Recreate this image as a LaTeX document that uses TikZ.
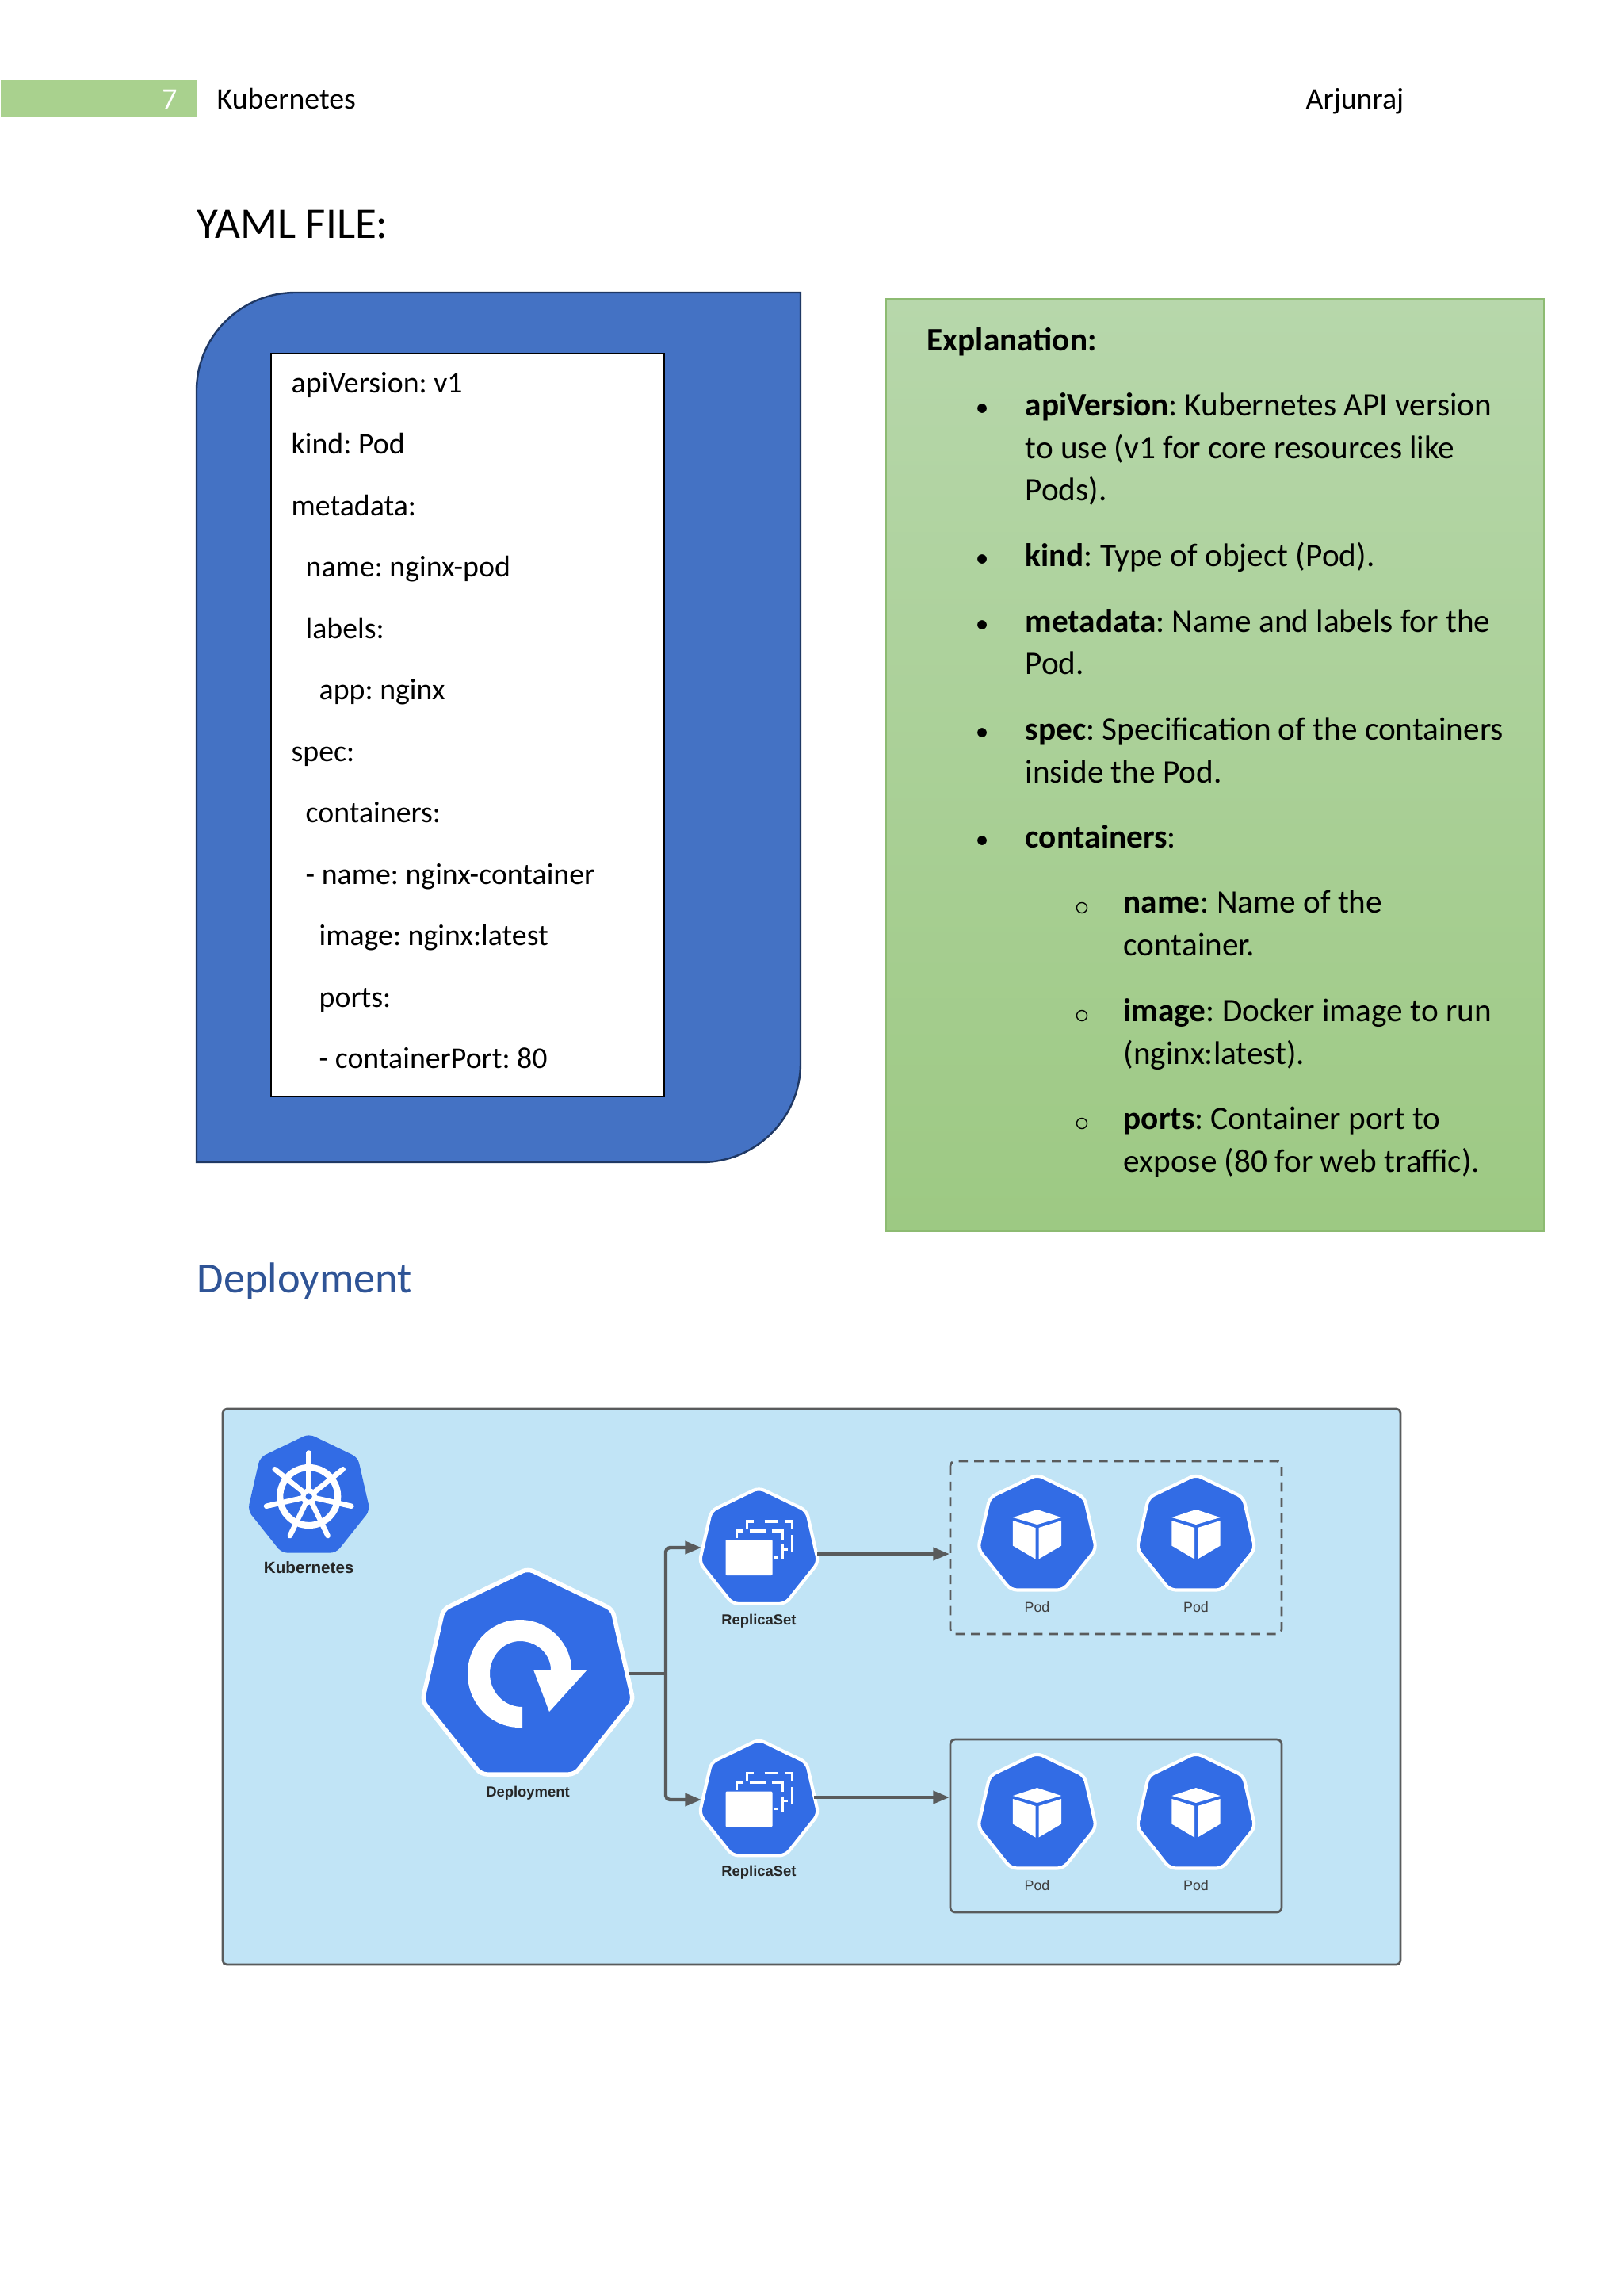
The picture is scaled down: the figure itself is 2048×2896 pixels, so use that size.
\documentclass[tikz,border=0pt]{standalone}
\usepackage{fontspec}
\setmainfont{Carlito}
\newfontfamily\labelfont{Liberation Sans}
\usetikzlibrary{shapes.geometric,arrows.meta,calc}
\definecolor{kblue}{HTML}{326CE5}
\definecolor{line}{HTML}{595B5C}
\definecolor{panel}{HTML}{C1E4F6}
\definecolor{yamlblue}{HTML}{4472C4}
\definecolor{yamledge}{HTML}{1F3864}
\definecolor{hbar}{HTML}{A9D18E}
\definecolor{gtop}{HTML}{B7D7AB}
\definecolor{gbot}{HTML}{9DC983}
\definecolor{gedge}{HTML}{8DBB72}
\definecolor{headblue}{HTML}{2F5496}
\tikzset{
 x=0.29066pt,y=-0.29066pt,
 txt/.style={anchor=base west,inner sep=0pt,font=\fontsize{12}{14}\selectfont\frenchspacing,text=black},
 ytxt/.style={anchor=base west,inner sep=0pt,font=\fontsize{11}{14}\selectfont\frenchspacing,text=black},
 hept/.style={regular polygon,regular polygon sides=7,inner sep=0pt,fill=kblue,draw=white,line width=1.2pt,rounded corners=2.2pt},
 klabel/.style={inner sep=0pt,font=\labelfont\bfseries\fontsize{5.35}{6}\selectfont,text=black!85},
 plabel/.style={inner sep=0pt,font=\labelfont\fontsize{5.2}{6}\selectfont,text=black!75},
 conn/.style={draw=line,line width=1.25pt,-{Triangle[length=6pt,width=4.6pt]}},
 connb/.style={draw=line,line width=1.25pt},
 grp/.style={draw=line,line width=0.8pt,rounded corners=1.8pt},
}
\newcommand{\cube}[2]{\begin{scope}[shift={(#1,#2)}]
 \fill[white] (0,-33)--(30.6,-23)--(0,-14)--(-30.6,-23)--cycle;
 \fill[white] (-30.6,-19)--(-2,-10)--(-2,29.5)--(-30.6,12.6)--cycle;
 \fill[white] (30.6,-19)--(2,-10)--(2,29.5)--(30.6,12.6)--cycle;
\end{scope}}
\newcommand{\stack}[2]{\begin{scope}[shift={(#1,#2)}]
 \fill[white,rounded corners=0.4pt] (-42,-12) rectangle (17,33);
 \begin{scope}[draw=white,line width=1.1pt]
 \draw (-28,-14)--(-28,-23)--(-20,-23);
 \draw (-12,-23)--(8,-23);
 \draw (16,-23)--(30,-23)--(30,-12);
 \draw (30,-6)--(30,13);
 \draw (19,10)--(24,10);
 \draw (-15,-25)--(-15,-35)--(-7,-35);
 \draw (7,-35)--(24,-35);
 \draw (33,-35)--(42,-35)--(42,-26);
 \draw (42,-18)--(42,3);
 \draw (31,0)--(36,0);
 \end{scope}
\end{scope}}
\begin{document}
\begin{tikzpicture}
\useasboundingbox (0,0) rectangle (2048,2896);
\fill[white] (0,0) rectangle (2048,2896);
% header
\node[fill=hbar,minimum width=248*0.29066pt,minimum height=46*0.29066pt,inner sep=0pt,anchor=north west] (bar) at (0,100) {};
\node[anchor=base,inner sep=0pt,text=white,font=\fontsize{11}{13}\selectfont] (pnum) at (214,137) {7};
\node[anchor=base west,inner sep=0pt,font=\fontsize{11}{13}\selectfont] (htitle) at (273,137) {Kubernetes};
\node[anchor=base west,inner sep=0pt,font=\fontsize{11}{13}\selectfont] (hauthor) at (1647,137) {Arjunraj};
\node[anchor=base west,inner sep=0pt,font=\fontsize{16}{19}\selectfont] (yamlh) at (248,300) {YAML FILE:};
\node[anchor=base west,inner sep=0pt,text=headblue,font=\fontsize{15.8}{19}\selectfont] (deph) at (248,1630) {Deployment};
% yaml shape
\draw[fill=yamlblue,draw=yamledge,line width=0.7pt] (373,369) -- (1010,369) -- (1010,1341) .. controls (1010,1410) and (954,1466) .. (885,1466) -- (248,1466) -- (248,493) .. controls (248,424) and (304,369) .. (373,369) -- cycle;
\draw[fill=white,draw=black,line width=0.5pt] (342,446) rectangle (838,1383);
\node[ytxt] (y1) at (367,495) {apiVersion: v1};
\node[ytxt] (y2) at (367,572.5) {kind: Pod};
\node[ytxt] (y3) at (367,650) {metadata:};
\node[ytxt] (y4) at (385,727.5) {name: nginx-pod};
\node[ytxt] (y5) at (385,805) {labels:};
\node[ytxt] (y6) at (402,882.5) {app: nginx};
\node[ytxt] (y7) at (367,960) {spec:};
\node[ytxt] (y8) at (385,1037.5) {containers:};
\node[ytxt] (y9) at (385,1115) {- name: nginx-container};
\node[ytxt] (y10) at (402,1192.5) {image: nginx:latest};
\node[ytxt] (y11) at (402,1270) {ports:};
\node[ytxt] (y12) at (402,1347.5) {- containerPort: 80};
% explanation
\shade[top color=gtop,bottom color=gbot] (1118,377) rectangle (1948,1553);
\draw[draw=gedge,line width=0.6pt] (1118,377) rectangle (1948,1553);
\node[txt] (e0) at (1169,442.5) {\textbf{Explanation:}};
\node[txt] (e1) at (1293,524) {\textbf{apiVersion}: Kubernetes API version};
\node[txt] (e1b) at (1293,578) {to use (v1 for core resources like};
\node[txt] (e1c) at (1293,631) {Pods).};
\node[txt] (e2) at (1293,714) {\textbf{kind}: Type of object (Pod).};
\node[txt] (e3) at (1293,797) {\textbf{metadata}: Name and labels for the};
\node[txt] (e3b) at (1293,850) {Pod.};
\node[txt] (e4) at (1293,933) {\textbf{spec}: Specification of the containers};
\node[txt] (e4b) at (1293,987) {inside the Pod.};
\node[txt] (e5) at (1293,1069) {\textbf{containers}:};
\node[txt] (e6) at (1417,1151) {\textbf{name}: Name of the};
\node[txt] (e6b) at (1417,1205) {container.};
\node[txt] (e7) at (1417,1288) {\textbf{image}: Docker image to run};
\node[txt] (e7b) at (1417,1342) {(nginx:latest).};
\node[txt] (e8) at (1417,1424) {\textbf{ports}: Container port to};
\node[txt] (e8b) at (1417,1478) {expose (80 for web traffic).};
\foreach \yy in {513,703,786,922,1058}
 \fill[black] (1239,\yy+2) circle (1.7pt);
\foreach \yy in {1142,1278,1414}
 \draw[black,line width=0.4pt] (1365,\yy+3) circle (1.9pt);
% diagram panel
\draw[fill=panel,draw=line,line width=0.8pt,rounded corners=1.5pt] (281,1777) rectangle (1767,2478);
\draw[grp,dash pattern=on 3.4pt off 2.3pt] (1199,1843) rectangle (1617,2061);
\draw[grp] (1199,2194) rectangle (1617,2412);
% Kubernetes
\node[hept,draw=none,minimum size=158*0.29066pt] (k8s) at (389.7,1887.5) {};
\begin{scope}[shift={(k8s.center)}]
 \draw[white,line width=2.4pt] (0,0) circle (10.6pt);
 \foreach \a in {0,...,6}{
  \draw[white,line width=1.9pt,line cap=round] (-90+\a*51.43:6) -- (-90+\a*51.43:55);
 }
 \fill[white] (0,0) circle (3pt);
 \fill[kblue] (0,0) circle (1.2pt);
\end{scope}
\node[klabel,font=\labelfont\bfseries\fontsize{6}{7}\selectfont] (k8sl) at (389.7,1977) {Kubernetes};
% Deployment
\node[hept,line width=1.6pt,minimum size=273*0.29066pt] (dep) at (666,2115) {};
\begin{scope}[shift={(dep.center)},shift={(-10,-4)}]
 \fill[white] (3,68) -- (0,68) .. controls (-37,68) and (-66,37) .. (-66,0) .. controls (-66,-37) and (-37,-68) .. (0,-68) .. controls (37,-68) and (65,-37) .. (65,-5) -- (39,-5) .. controls (39,-24) and (22,-41) .. (0,-41) .. controls (-21,-41) and (-38,-22) .. (-38,0) .. controls (-38,22) and (-21,42) .. (3,42) -- cycle;
 \fill[white] (17,-5) -- (85,-5) -- (37,48) -- cycle;
\end{scope}
\node[klabel] (depl) at (666,2262) {Deployment};
% ReplicaSets
\node[hept,minimum size=154*0.29066pt] (rs1) at (957.5,1953.5) {};
\stack{957.5}{1954}
\node[klabel] (rs1l) at (957.5,2044.5) {ReplicaSet};
\node[hept,minimum size=154*0.29066pt] (rs2) at (957.5,2271) {};
\stack{957.5}{2271.5}
\node[klabel] (rs2l) at (957.5,2362) {ReplicaSet};
% Pods
\node[hept,minimum size=153*0.29066pt] (p1) at (1308.5,1936.5) {}; \cube{1308.5}{1937}
\node[hept,minimum size=153*0.29066pt] (p2) at (1509,1936.5) {}; \cube{1509}{1937}
\node[hept,minimum size=153*0.29066pt] (p3) at (1308.5,2287.5) {}; \cube{1308.5}{2288}
\node[hept,minimum size=153*0.29066pt] (p4) at (1509,2287.5) {}; \cube{1509}{2288}
\node[plabel] (p1l) at (1308.5,2027) {Pod};
\node[plabel] (p2l) at (1509,2027) {Pod};
\node[plabel] (p3l) at (1308.5,2378) {Pod};
\node[plabel] (p4l) at (1509,2378) {Pod};
% connectors
\coordinate (dout) at (793,2111);
\coordinate (jn) at (840,2111);
\coordinate (rs1in) at (885,1952);
\coordinate (rs2in) at (885,2270);
\coordinate (rs1out) at (1031,1960);
\coordinate (rs2out) at (1027,2267);
\coordinate (g1) at (1198,1960);
\coordinate (g2) at (1198,2267);
\draw[connb] (dout) -- (jn);
\draw[conn,rounded corners=1.5pt] (jn) -- (jn|-rs1in) -- (rs1in);
\draw[conn,rounded corners=1.5pt] (jn) -- (jn|-rs2in) -- (rs2in);
\draw[conn] (rs1out) -- (g1);
\draw[conn] (rs2out) -- (g2);
\end{tikzpicture}
\end{document}
